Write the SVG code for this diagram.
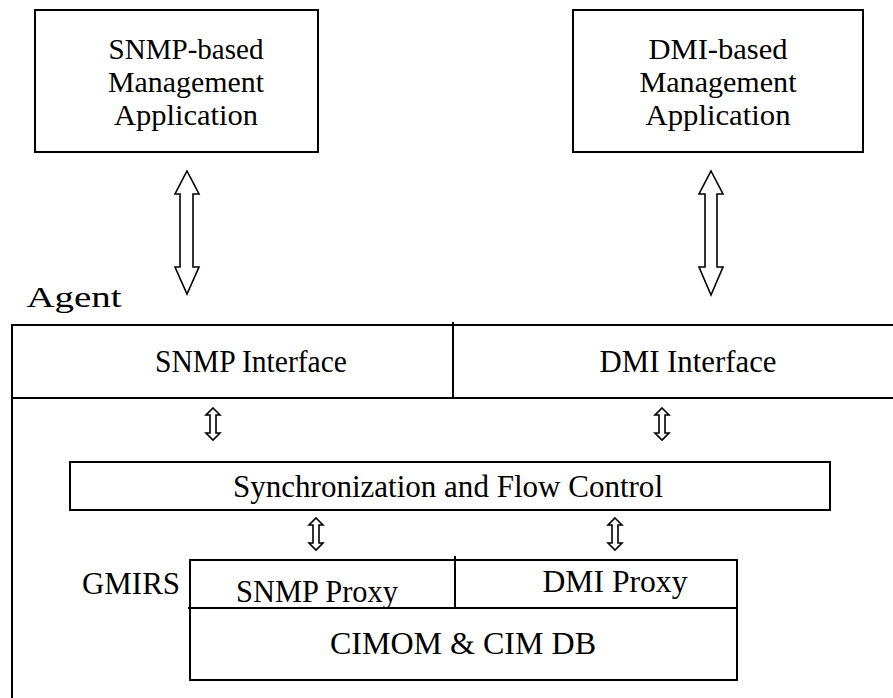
<svg xmlns="http://www.w3.org/2000/svg" width="893" height="698" viewBox="0 0 893 698">
<style>
.box{fill:none;stroke:#000;stroke-width:2}
.ln{stroke:#000;stroke-width:2;fill:none}
.arr{fill:#fff;stroke:#000;stroke-width:1.6;stroke-linejoin:miter}
text{font-family:"Liberation Serif","Times New Roman",serif;font-size:31px;fill:#000;text-anchor:middle}
</style>
<defs>
<path id="sa" d="M0,-16 L7,-9 L3,-9 L3,9 L7,9 L0,16 L-7,9 L-3,9 L-3,-9 L-7,-9 Z"/>
</defs>
<rect width="893" height="698" fill="#fff"/>
<g id="snmp-app">
<rect class="box" x="35" y="10" width="283" height="142"/>
<text x="186" y="59" style="font-size:29px" textLength="155" lengthAdjust="spacingAndGlyphs">SNMP-based</text>
<text x="186" y="92" style="font-size:29px" textLength="156" lengthAdjust="spacingAndGlyphs">Management</text>
<text x="186" y="125" style="font-size:29px" textLength="144" lengthAdjust="spacingAndGlyphs">Application</text>
</g>
<g id="dmi-app">
<rect class="box" x="573" y="10" width="290" height="142"/>
<text x="718" y="59" style="font-size:29px" textLength="139" lengthAdjust="spacingAndGlyphs">DMI-based</text>
<text x="718" y="92" style="font-size:29px" textLength="157" lengthAdjust="spacingAndGlyphs">Management</text>
<text x="718" y="125" style="font-size:29px" textLength="145" lengthAdjust="spacingAndGlyphs">Application</text>
</g>
<g id="agent">
<text x="74" y="307" style="font-size:30px" textLength="95" lengthAdjust="spacingAndGlyphs">Agent</text>
<rect class="box" x="12" y="325" width="900" height="400"/>
<line class="ln" x1="12" y1="398" x2="893" y2="398"/>
<line class="ln" x1="453" y1="322" x2="453" y2="398"/>
</g>
<g id="snmp-interface">
<text x="251" y="372" textLength="192" lengthAdjust="spacingAndGlyphs">SNMP Interface</text>
</g>
<g id="dmi-interface">
<text x="688" y="372" textLength="177" lengthAdjust="spacingAndGlyphs">DMI Interface</text>
</g>
<g id="sync">
<rect class="box" x="70" y="462" width="760" height="48"/>
<text x="448" y="497" style="font-size:32px" textLength="430" lengthAdjust="spacingAndGlyphs">Synchronization and Flow Control</text>
</g>
<g id="gmirs">
<text x="131" y="594" textLength="98" lengthAdjust="spacingAndGlyphs">GMIRS</text>
<rect class="box" x="190" y="560" width="547" height="120"/>
<line class="ln" x1="188" y1="608" x2="737" y2="608"/>
<line class="ln" x1="455" y1="556" x2="455" y2="608"/>
</g>
<g id="snmp-proxy">
<text x="317" y="602" textLength="162" lengthAdjust="spacingAndGlyphs">SNMP Proxy</text>
</g>
<g id="dmi-proxy">
<text x="615" y="592" textLength="145" lengthAdjust="spacingAndGlyphs">DMI Proxy</text>
</g>
<g id="cimom">
<text x="463" y="654" style="font-size:32px" textLength="266" lengthAdjust="spacingAndGlyphs">CIMOM &amp; CIM DB</text>
</g>
<g id="connectors">
<path class="arr" d="M187,171 L199,194 L193,194 L193,267 L199,267 L187,294 L175,267 L180,267 L180,194 L175,194 Z"/>
<path class="arr" d="M711,171 L723,194 L717,194 L717,267 L723,267 L711,295 L699,267 L705,267 L705,194 L699,194 Z"/>
<use href="#sa" class="arr" x="213" y="424"/>
<use href="#sa" class="arr" x="662" y="424"/>
<use href="#sa" class="arr" x="316" y="534"/>
<use href="#sa" class="arr" x="615" y="534"/>
</g>
</svg>
